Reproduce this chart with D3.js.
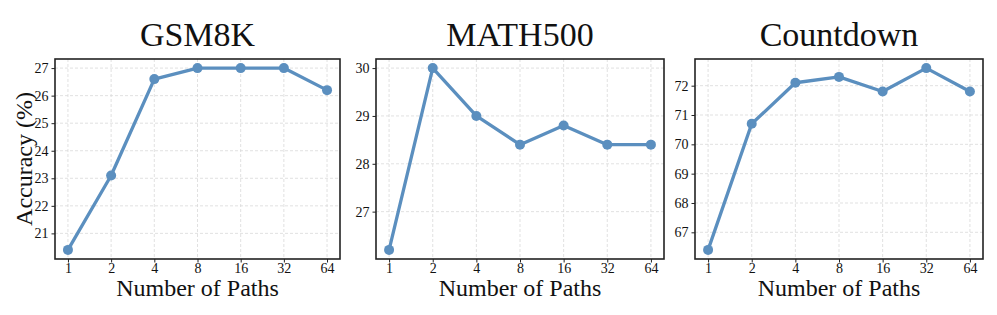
<!DOCTYPE html>
<html>
<head>
<meta charset="utf-8">
<script src="https://cdn.jsdelivr.net/npm/d3@7"></script>
<style>
  html, body { margin: 0; padding: 0; background: #fff; }
  svg { display: block; font-family: "Liberation Serif", "Times New Roman", serif; }
  .grid line { stroke: #d9d9d9; stroke-width: 0.8; stroke-dasharray: 3 2; }
  .tick text { font-size: 14px; fill: #111; }
  .tick line { stroke: #222; }
</style>
</head>
<body>
<svg id="chart" width="997" height="315"></svg>
<script>
(function () {
  'use strict';

  const PATHS = ['1', '2', '4', '8', '16', '32', '64'];

  const GSM8K = [20.4, 23.1, 26.6, 27.0, 27.0, 27.0, 26.2];
  const MATH500 = [26.2, 30.0, 29.0, 28.4, 28.8, 28.4, 28.4];
  const COUNTDOWN = [66.4, 70.7, 72.1, 72.3, 71.8, 72.6, 71.8];

  const GSM8K_TICKS = [21, 22, 23, 24, 25, 26, 27];
  const MATH500_TICKS = [27, 28, 29, 30];
  const COUNTDOWN_TICKS = [67, 68, 69, 70, 71, 72];

  const PANELS = [
    { title: 'GSM8K', values: GSM8K, ticks: GSM8K_TICKS, left: 55, right: 340 },
    { title: 'MATH500', values: MATH500, ticks: MATH500_TICKS, left: 376, right: 664 },
    { title: 'Countdown', values: COUNTDOWN, ticks: COUNTDOWN_TICKS, left: 695, right: 983 }
  ];

  const TOP = 59;
  const BOTTOM = 259;
  const LINE_COLOR = '#5b8fbf';

  const svg = d3.select('#chart');

  PANELS.forEach((panel, pi) => {
    const w = panel.right - panel.left;
    const h = BOTTOM - TOP;
    const g = svg.append('g').attr('transform', `translate(${panel.left},${TOP})`);

    // matplotlib-style 5% margins
    const x = d3.scalePoint().domain(PATHS).range([0, w]).padding(0.3);
    const [lo, hi] = d3.extent(panel.values);
    const m = (hi - lo) * 0.05;
    const y = d3.scaleLinear().domain([lo - m, hi + m]).range([h, 0]);

    // grid
    const grid = g.append('g').attr('class', 'grid');
    grid.selectAll('line.v').data(PATHS).join('line')
      .attr('x1', d => x(d)).attr('x2', d => x(d))
      .attr('y1', 0).attr('y2', h);
    grid.selectAll('line.h').data(panel.ticks).join('line')
      .attr('x1', 0).attr('x2', w)
      .attr('y1', d => y(d)).attr('y2', d => y(d));

    // axes (drop d3's sans-serif default so the serif font carries through)
    g.append('g')
      .attr('transform', `translate(0,${h})`)
      .call(d3.axisBottom(x).tickSize(3.5).tickPadding(1))
      .call(a => a.attr('font-family', null).attr('font-size', null))
      .call(a => a.select('.domain').remove());
    g.append('g')
      .call(d3.axisLeft(y).tickValues(panel.ticks).tickFormat(d3.format('d')).tickSize(3.5).tickPadding(3))
      .call(a => a.attr('font-family', null).attr('font-size', null))
      .call(a => a.select('.domain').remove());

    // line + markers
    const line = d3.line()
      .x((d, i) => x(PATHS[i]))
      .y(d => y(d));
    g.append('path')
      .datum(panel.values)
      .attr('fill', 'none')
      .attr('stroke', LINE_COLOR)
      .attr('stroke-width', 3.3)
      .attr('stroke-linejoin', 'round')
      .attr('d', line);
    g.selectAll('circle').data(panel.values).join('circle')
      .attr('cx', (d, i) => x(PATHS[i]))
      .attr('cy', d => y(d))
      .attr('r', 5)
      .attr('fill', LINE_COLOR);

    // frame
    g.append('rect')
      .attr('width', w).attr('height', h)
      .attr('fill', 'none')
      .attr('stroke', '#222')
      .attr('stroke-width', 1.6);

    // titles
    g.append('text')
      .attr('x', w / 2).attr('y', -13)
      .attr('text-anchor', 'middle')
      .attr('font-size', 34)
      .attr('fill', '#111')
      .text(panel.title);
    g.append('text')
      .attr('x', w / 2).attr('y', h + 37)
      .attr('text-anchor', 'middle')
      .attr('font-size', 24)
      .attr('fill', '#111')
      .text('Number of Paths');

    if (pi === 0) {
      g.append('text')
        .attr('transform', `translate(-23,${h / 2}) rotate(-90)`)
        .attr('text-anchor', 'middle')
        .attr('font-size', 24)
        .attr('fill', '#111')
        .text('Accuracy (%)');
    }
  });
})();
</script>
</body>
</html>
